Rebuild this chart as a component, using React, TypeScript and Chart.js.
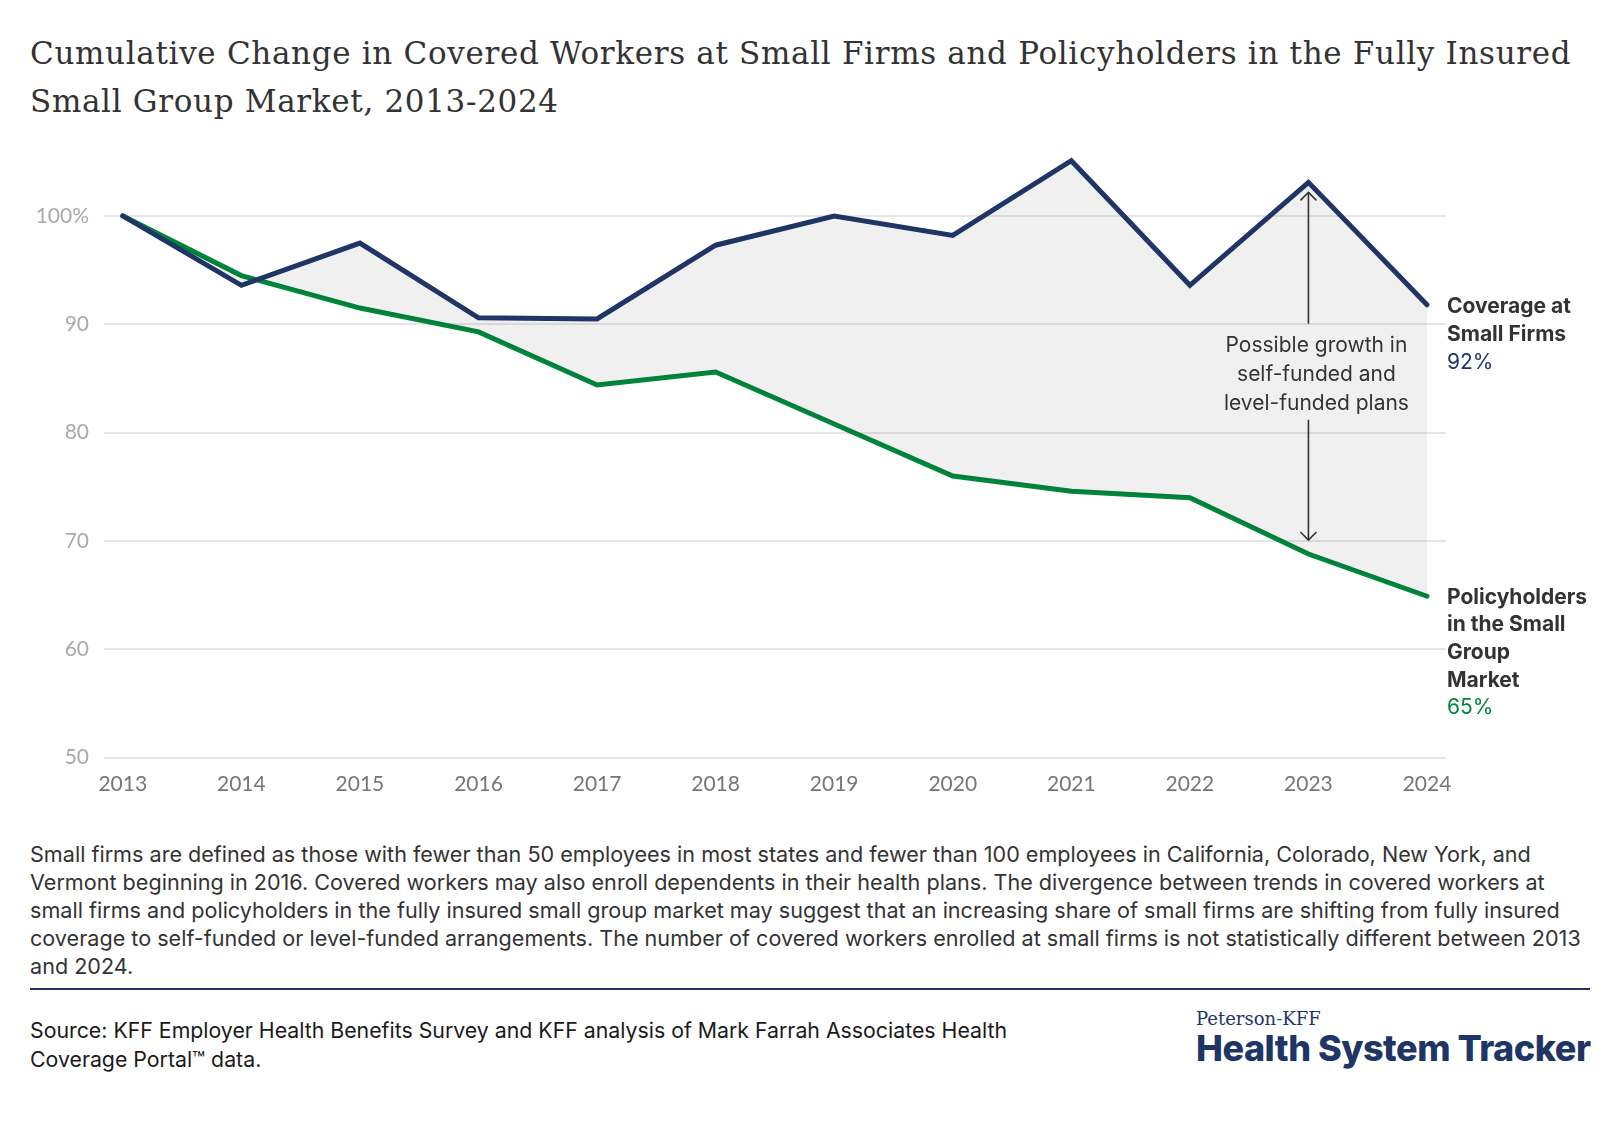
import React, { useEffect, useRef } from "react";
import { Chart, registerables } from "chart.js";

Chart.register(...registerables);

const years = [2013, 2014, 2015, 2016, 2017, 2018, 2019, 2020, 2021, 2022, 2023, 2024];
const coveredWorkers = [100, 93.6, 97.5, 90.6, 90.5, 97.3, 100, 98.2, 105.1, 93.6, 103.1, 91.8];
const policyholders = [100, 94.5, 91.5, 89.3, 84.4, 85.6, 80.8, 76.0, 74.6, 74.0, 68.8, 64.9];
const yTicks = [50, 60, 70, 80, 90, 100];

const coveredLabel = ["Coverage at", "Small Firms"];
const coveredValue = "92%";
const policyLabel = ["Policyholders", "in the Small", "Group", "Market"];
const policyValue = "65%";
const annotationLines = ["Possible growth in", "self-funded and", "level-funded plans"];

const titleLines = [
  "Cumulative Change in Covered Workers at Small Firms and Policyholders in the Fully Insured",
  "Small Group Market, 2013-2024",
];
const noteLines = [
  "Small firms are defined as those with fewer than 50 employees in most states and fewer than 100 employees in California, Colorado, New York, and",
  "Vermont beginning in 2016. Covered workers may also enroll dependents in their health plans. The divergence between trends in covered workers at",
  "small firms and policyholders in the fully insured small group market may suggest that an increasing share of small firms are shifting from fully insured",
  "coverage to self-funded or level-funded arrangements. The number of covered workers enrolled at small firms is not statistically different between 2013",
  "and 2024.",
];
const sourceLines = [
  "Source: KFF Employer Health Benefits Survey and KFF analysis of Mark Farrah Associates Health",
  "Coverage Portal\u2122 data.",
];

const NAVY = "#1f3566";
const GREEN = "#00873c";
const SANS = "Inter, Lato, sans-serif";
const TICKFONT = "Lato, sans-serif";

export default function App() {
  const canvasRef = useRef<HTMLCanvasElement | null>(null);

  useEffect(() => {
    const canvas = canvasRef.current;
    if (!canvas) return;

    const overlay = {
      id: "overlay",
      afterDatasetsDraw(chart: any) {
        const { ctx } = chart;
        const xs = chart.scales.x;
        const ys = chart.scales.y;
        ctx.save();
        // annotation arrow
        const ai = 10;
        const xa = xs.getPixelForValue(years[ai]);
        const top = ys.getPixelForValue(coveredWorkers[ai]) + 10;
        const bottom = ys.getPixelForValue(policyholders[ai]) - 14;
        const textCenter = (top + bottom) / 2 + 8.5;
        ctx.strokeStyle = "#333";
        ctx.lineWidth = 1.6;
        ctx.beginPath();
        ctx.moveTo(xa, top);
        ctx.lineTo(xa, textCenter - 51);
        ctx.moveTo(xa, textCenter + 45);
        ctx.lineTo(xa, bottom);
        ctx.stroke();
        ctx.beginPath();
        ctx.moveTo(xa - 8, top + 8);
        ctx.lineTo(xa, top);
        ctx.lineTo(xa + 8, top + 8);
        ctx.moveTo(xa - 8, bottom - 8);
        ctx.lineTo(xa, bottom);
        ctx.lineTo(xa + 8, bottom - 8);
        ctx.stroke();
        ctx.fillStyle = "#333";
        ctx.font = `21px ${SANS}`;
        ctx.textAlign = "center";
        ctx.textBaseline = "middle";
        annotationLines.forEach((t, i) => {
          ctx.fillText(t, xa + 8, textCenter - 29 + i * 29);
        });

        // right labels
        const lx = chart.chartArea.right + 1;
        ctx.textAlign = "left";
        let y0 = ys.getPixelForValue(coveredWorkers[coveredWorkers.length - 1]) + 2;
        ctx.font = `bold 21px ${SANS}`;
        ctx.fillStyle = "#333";
        coveredLabel.forEach((t, i) => ctx.fillText(t, lx, y0 + i * 28));
        ctx.font = `21px ${SANS}`;
        ctx.fillStyle = NAVY;
        ctx.fillText(coveredValue, lx, y0 + coveredLabel.length * 28);

        y0 = ys.getPixelForValue(policyholders[policyholders.length - 1]) + 1;
        ctx.font = `bold 21px ${SANS}`;
        ctx.fillStyle = "#333";
        policyLabel.forEach((t, i) => ctx.fillText(t, lx, y0 + i * 27.7));
        ctx.font = `21px ${SANS}`;
        ctx.fillStyle = GREEN;
        ctx.fillText(policyValue, lx, y0 + policyLabel.length * 27.7);
        ctx.restore();
      },
    };

    const chart = new Chart(canvas, {
      type: "line",
      data: {
        datasets: [
          {
            label: "Coverage at Small Firms",
            data: years.map((yr, i) => ({ x: yr, y: coveredWorkers[i] })),
            borderColor: NAVY,
            borderWidth: 5,
            pointRadius: 0,
            borderCapStyle: "round",
            borderJoinStyle: "miter",
            fill: { target: 1 },
            backgroundColor: "rgba(0,0,0,0.06)",
            tension: 0,
          },
          {
            label: "Policyholders in the Small Group Market",
            data: years.map((yr, i) => ({ x: yr, y: policyholders[i] })),
            borderColor: GREEN,
            borderWidth: 5,
            pointRadius: 0,
            borderCapStyle: "round",
            borderJoinStyle: "miter",
            fill: false,
            tension: 0,
          },
        ],
      },
      options: {
        responsive: false,
        animation: false,
        devicePixelRatio: 1,
        layout: { padding: { left: 0, right: 174, top: 21.9, bottom: 0 } },
        plugins: {
          legend: { display: false },
          tooltip: { enabled: false },
          title: { display: false },
        },
        scales: {
          x: {
            type: "linear",
            min: 2012.8414,
            max: 2024.1603,
            grid: { display: false, drawTicks: false },
            border: { display: false },
            afterBuildTicks: (scale: any) => {
              scale.ticks = years.map((v) => ({ value: v }));
            },
            afterFit: (scale: any) => {
              scale.height = 62.3;
            },
            ticks: {
              autoSkip: false,
              maxRotation: 0,
              padding: 14,
              color: "#767676",
              font: { family: TICKFONT, size: 21 },
              callback: (v: any) => String(v),
            },
          },
          y: {
            min: 50,
            max: 110,
            grid: { color: "#e6e6e6", lineWidth: 2, drawTicks: false },
            border: { display: false },
            afterBuildTicks: (scale: any) => {
              scale.ticks = yTicks.map((v) => ({ value: v }));
            },
            afterFit: (scale: any) => {
              scale.width = 104;
            },
            ticks: {
              padding: 15,
              color: "#aaaaaa",
              font: { family: TICKFONT, size: 21 },
              callback: (v: any) => (v === 100 ? "100%" : String(v)),
            },
          },
        },
      },
      plugins: [overlay],
    } as any);

    return () => chart.destroy();
  }, []);

  return (
    <div
      style={{
        position: "absolute",
        left: 0,
        top: 0,
        width: 1620,
        height: 1126,
        background: "#fff",
        overflow: "hidden",
      }}
    >
      <div
        style={{
          position: "absolute",
          left: 30,
          top: 29,
          fontFamily: "'DejaVu Serif', serif",
          fontSize: 31,
          letterSpacing: "0.67px",
          lineHeight: "48px",
          color: "#333",
          whiteSpace: "nowrap",
        }}
      >
        {titleLines.map((t, i) => (
          <div key={i}>{t}</div>
        ))}
      </div>
      <canvas
        ref={canvasRef}
        width={1620}
        height={740}
        style={{ position: "absolute", left: 0, top: 80, width: 1620, height: 740 }}
      />
      <div
        style={{
          position: "absolute",
          left: 30,
          top: 840,
          fontFamily: SANS,
          fontSize: 21.6,
          lineHeight: "28px",
          color: "#333",
          whiteSpace: "nowrap",
        }}
      >
        {noteLines.map((t, i) => (
          <div key={i}>{t}</div>
        ))}
      </div>
      <div
        style={{
          position: "absolute",
          left: 30,
          top: 988,
          width: 1560,
          height: 2,
          background: NAVY,
        }}
      />
      <div
        style={{
          position: "absolute",
          left: 30,
          top: 1016,
          fontFamily: SANS,
          fontSize: 21.3,
          lineHeight: "28.5px",
          color: "#1a1a1a",
          whiteSpace: "nowrap",
        }}
      >
        {sourceLines.map((t, i) => (
          <div key={i}>{t}</div>
        ))}
      </div>
      <div
        style={{
          position: "absolute",
          left: 1196,
          top: 1010,
          fontFamily: "'DejaVu Serif', serif",
          fontSize: 18,
          lineHeight: "18px",
          color: NAVY,
          whiteSpace: "nowrap",
        }}
      >
        Peterson<span style={{ color: GREEN }}>-</span>KFF
      </div>
      <div
        style={{
          position: "absolute",
          left: 1196,
          top: 1029.5,
          fontFamily: SANS,
          fontWeight: 800,
          fontSize: 36,
          letterSpacing: "-0.5px",
          lineHeight: "37px",
          color: NAVY,
          whiteSpace: "nowrap",
        }}
      >
        Health System Tracker
      </div>
    </div>
  );
}
